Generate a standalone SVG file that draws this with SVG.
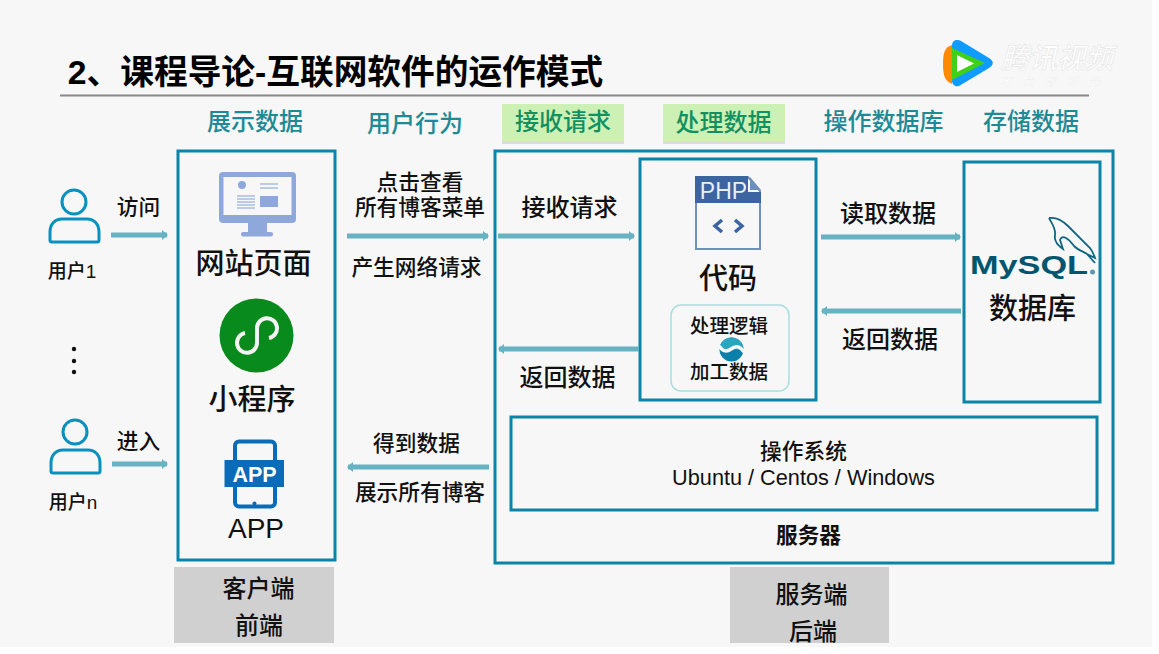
<svg xmlns="http://www.w3.org/2000/svg" width="1159" height="654" viewBox="0 0 1159 654">
<style>
text{font-family:"Liberation Sans","Noto Sans CJK SC",sans-serif;fill:#111;text-anchor:middle;font-weight:500}
.box{fill:none;stroke:#0a84a8;stroke-width:3}
.s18{font-size:19px}.s19{font-size:19.5px}.s22{font-size:21.7px}.s24{font-size:24px}.s29{font-size:29px}
.head{font-size:24px;fill:#1d8a96}
.headg{font-size:24px;fill:#12905f}
.gray{fill:#d0d0d0}
.grn{fill:#cdf1b5}
.shd{fill:#dcdcdc}
.user{fill:none;stroke:#0a90bf;stroke-width:3}
.arr{stroke:#67b3c3;stroke-width:5;fill:none;marker-end:url(#head)}
.ico{fill:#8fa8dc}
</style>
<defs>
<marker id="head" markerUnits="userSpaceOnUse" markerWidth="8" markerHeight="12" refX="5" refY="6" orient="auto">
<path d="M0 1 L6 6 L0 11 Z" fill="#67b3c3"/>
</marker>
</defs>
<rect x="0" y="0" width="1159" height="654" fill="#ffffff"/>
<rect x="0" y="0" width="1152" height="647" fill="#f7f7f7"/>

<g id="title">
<text x="335.500" y="84" font-size="33.700" style="fill:#000;font-weight:700">2、课程导论-互联网软件的运作模式</text>
<line x1="60" y1="95.500" x2="1089" y2="95.500" stroke="#888" stroke-width="2"/>
</g>

<g id="logo">
<path d="M952 45 C945 47 943 52 943 64 C943 76 945 81 952 84 Z" fill="#ff8a00"/>
<path d="M957 40 C954 40 952 42 952 46 L952 80 C952 85 955 87 959 86 L989 68 C994 65 994 61 989 58 L961 41 C960 40 958 40 957 40 Z" fill="#0f9bff"/>
<path d="M952 48 L985 63 L952 80 Z" fill="#3fd017"/>
<path d="M957 55 L974 63.500 L957 72 Z" fill="#fff"/>
<text x="1057" y="68" font-size="28" font-style="italic" style="fill:#fff;stroke:#e2e2e2;stroke-width:.5">腾讯视频</text>
<text x="1056" y="86" font-size="11" font-style="italic" style="fill:#fff;stroke:#e6e6e6;stroke-width:.2" letter-spacing="11">不负好时光</text>
</g>

<g id="headers">
<rect class="shd" x="502" y="107" width="122" height="37"/>
<rect class="grn" x="502" y="104" width="122" height="37"/>
<rect class="shd" x="663" y="107" width="122" height="37"/>
<rect class="grn" x="663" y="104" width="122" height="37"/>
<text class="head" x="255" y="130">展示数据</text>
<text class="head" x="415" y="132">用户行为</text>
<text class="headg" x="563" y="130">接收请求</text>
<text class="headg" x="723.500" y="131">处理数据</text>
<text class="head" x="883.500" y="130">操作数据库</text>
<text class="head" x="1031" y="130">存储数据</text>
</g>

<g id="user1">
<circle class="user" cx="74" cy="202" r="12"/>
<path class="user" d="M50 240 V232 C50 224 55 219 62 219 H87 C94 219 99 224 99 232 V240 Q99 242 97 242 H52 Q50 242 50 240 Z"/>
<text class="s18" x="72" y="278">用户1</text>
</g>
<g id="dots">
<circle cx="74" cy="349" r="2.200" fill="#111"/><circle cx="74" cy="361" r="2.200" fill="#111"/><circle cx="74" cy="372" r="2.200" fill="#111"/>
</g>
<g id="usern">
<circle class="user" cx="75" cy="432" r="12"/>
<path class="user" d="M51 471 V463 C51 455 56 450 63 450 H88 C95 450 100 455 100 463 V471 Q100 473 98 473 H53 Q51 473 51 471 Z"/>
<text class="s18" x="73" y="509">用户n</text>
</g>

<g id="client">
<rect class="box" x="178" y="151" width="157" height="409"/>
<g id="monitor">
<rect class="ico" x="219" y="172" width="77" height="51" rx="4"/>
<rect x="223.500" y="177" width="68" height="38" fill="#f7f7f7"/>
<circle class="ico" cx="242" cy="185" r="4"/>
<path d="M260 184H278M260 188H278M237 196H255M237 199H255M237 202H255M237 205H255M237 208H255" stroke="#a9bde6" stroke-width="1.500" fill="none"/>
<rect class="ico" x="260" y="196" width="18" height="11"/>
<rect class="ico" x="248" y="223" width="19" height="10"/>
<rect class="ico" x="241" y="232" width="32" height="4.500" rx="2"/>
</g>
<text class="s29" x="253.500" y="274">网站页面</text>
<g id="miniprogram">
<circle cx="256.500" cy="335.500" r="37" fill="#098a1c"/>
<path d="M245 333 A10 10 0 1 0 257 343 L257 328 A10 10 0 1 1 269 338" fill="none" stroke="#f4f4f4" stroke-width="4"/>
</g>
<text class="s29" x="252" y="410">小程序</text>
<g id="appicon">
<rect x="235" y="441.500" width="40" height="65" rx="4" fill="#f7f7f7" stroke="#0a6cb8" stroke-width="4"/>
<rect x="224.500" y="460" width="59.500" height="27" fill="#0a6cb8"/>
<text x="254.500" y="481.500" font-size="21.500" style="fill:#fff;font-weight:700">APP</text>
<circle cx="254.500" cy="503.500" r="2" fill="#0a6cb8"/>
</g>
<text x="256" y="538" font-size="28">APP</text>
</g>

<g id="client-label">
<rect class="gray" x="174" y="567" width="160" height="76"/>
<text class="s24" x="258.500" y="597">客户端</text>
<text class="s24" x="259" y="634">前端</text>
</g>

<g id="server">
<rect class="box" x="495" y="151" width="618" height="412"/>
<text x="808.500" y="543" font-size="21.700" style="font-weight:700">服务器</text>
</g>

<g id="code">
<rect class="box" x="640" y="159" width="176" height="241"/>
<g id="phpicon">
<path d="M696 177 H748 L760 191 V249 H696 Z" fill="#f7f7f7" stroke="#6f8fbc" stroke-width="2"/>
<path d="M695 176 H748 V192 H761 V203 H695 Z" fill="#3b64a0"/>
<path d="M750 177 L761 190 H750 Z" fill="#6f8fbc"/>
<text x="723.500" y="198.500" font-size="23" style="fill:#e8eef8">PHP</text>
<path d="M722 220 L715 226 L722 232 M735 220 L742 226 L735 232" fill="none" stroke="#3b64a0" stroke-width="3.500"/>
</g>
<text class="s29" x="728" y="289">代码</text>
<rect x="671" y="305" width="118" height="86" rx="10" fill="#f7f7f7" stroke="#a8dede" stroke-width="1.500"/>
<text class="s19" x="729" y="333">处理逻辑</text>
<g id="swirl">
<circle cx="731.500" cy="349.500" r="12" fill="#0a7fa8"/>
<path d="M719.500 349.500 A12 12 0 0 1 743.500 349.500 Z" fill="#2aa7bf"/>
<path d="M719 346 C723 352 727 352 731 349 C735 346 739 345 744 352" fill="none" stroke="#f7f7f7" stroke-width="3.500"/>
</g>
<text class="s19" x="729" y="379">加工数据</text>
</g>

<g id="database">
<rect class="box" x="964" y="162" width="136" height="240"/>
<path d="M1049 218 C1055 217 1062 220 1068 226 C1076 234 1084 242 1090 248 C1093 252 1094 255 1095 258 L1087 254 L1095 263 M1049 218 C1052 224 1056 228 1055 235 C1054 240 1057 245 1063 249 L1060 240 C1062 234 1068 238 1074 246 C1078 250 1084 252 1087 254" fill="none" stroke="#0f6680" stroke-width="1.800"/>
<text x="1029" y="274" font-size="25" textLength="118" lengthAdjust="spacingAndGlyphs" style="fill:#00566f;font-weight:700">MySQL</text>
<circle cx="1092.500" cy="272" r="2.500" fill="#5a9ab0"/>
<text class="s29" x="1032.500" y="319">数据库</text>
</g>

<g id="os">
<rect class="box" x="511" y="417" width="586" height="93"/>
<text class="s22" x="803.500" y="459">操作系统</text>
<text x="803.500" y="484.500" font-size="21.700">Ubuntu / Centos / Windows</text>
</g>

<g id="server-label">
<rect class="gray" x="730" y="567" width="159" height="76"/>
<text class="s24" x="811.500" y="603">服务端</text>
<text class="s24" x="813" y="640">后端</text>
</g>

<g id="connectors">
<line class="arr" x1="111" y1="235" x2="167" y2="235"/>
<line class="arr" x1="112" y1="464" x2="167" y2="464"/>
<line class="arr" x1="347" y1="236" x2="488" y2="236"/>
<line class="arr" x1="498" y1="236" x2="634" y2="236"/>
<line class="arr" x1="821" y1="237" x2="960" y2="237"/>
<line class="arr" x1="961" y1="311" x2="822" y2="311"/>
<line class="arr" x1="639" y1="349" x2="499" y2="349"/>
<line class="arr" x1="489" y1="467" x2="348" y2="467"/>
</g>

<g id="labels">
<text class="s22" x="138.500" y="215">访问</text>
<text class="s22" x="138.500" y="449">进入</text>
<text class="s22" x="420" y="190">点击查看</text>
<text class="s22" x="420" y="215">所有博客菜单</text>
<text class="s22" x="416.500" y="275">产生网络请求</text>
<text class="s22" x="416.500" y="451">得到数据</text>
<text class="s22" x="420" y="500">展示所有博客</text>
<text class="s24" x="569.500" y="216">接收请求</text>
<text class="s24" x="567.500" y="386">返回数据</text>
<text class="s24" x="888" y="222">读取数据</text>
<text class="s24" x="890" y="348">返回数据</text>
</g>
</svg>
